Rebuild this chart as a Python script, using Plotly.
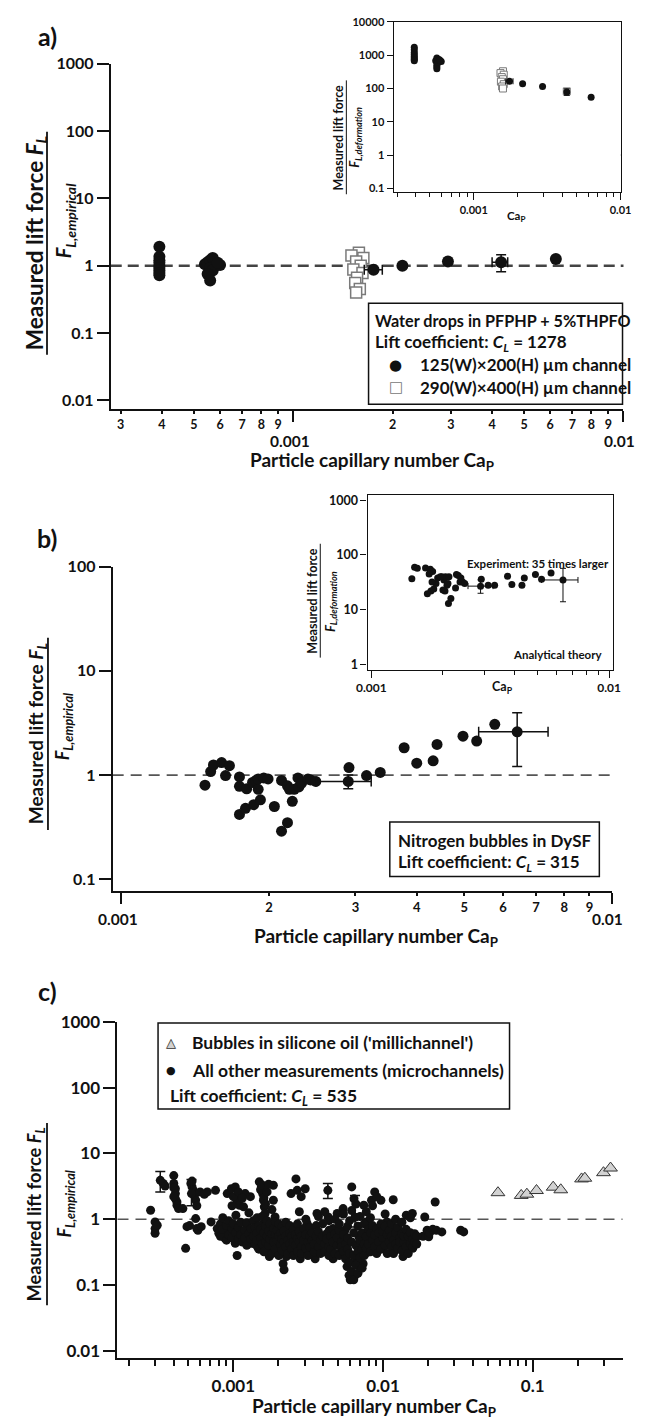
import math
import plotly.graph_objects as go

W, H = 648, 1424
OX, OY = 8, 8            # the page body keeps its default 8px margin
FW, FH = W - OX, H - OY  # figure size that fits the window
FONT = "Lato"
INK = "#111111"

# ── panel a, main: measured / empirical lift force ──────────────
a_small_x = [0.000393, 0.000393, 0.000393, 0.000393, 0.000393, 0.000393, 0.000393, 0.000393, 0.000393,
             0.00054, 0.00055, 0.00056, 0.00057, 0.00058, 0.00056, 0.00057, 0.00055, 0.00056, 0.00060, 0.00059,
             0.00214, 0.00294, 0.00624]
a_small_y = [1.9, 1.35, 1.2, 1.1, 1.0, 0.92, 0.85, 0.78, 0.72,
             1.05, 1.12, 1.2, 1.3, 1.0, 0.92, 0.85, 0.75, 0.6, 1.02, 1.1,
             1.0, 1.15, 1.25]
a_err_x = [0.00175, 0.00426]
a_err_y = [0.87, 1.12]
a_err_xm = [0.00011, 0.00026]
a_err_xp = [0.00011, 0.0002]
a_err_ym = [0.0, 0.31]
a_err_yp = [0.0, 0.33]
a_big_x = [0.00158, 0.00150, 0.00163, 0.00155, 0.00160, 0.00152, 0.00162, 0.00156, 0.00154, 0.00159, 0.00155]
a_big_y = [1.55, 1.42, 1.30, 1.15, 1.0, 0.88, 0.78, 0.66, 0.55, 0.45, 0.40]

# ── panel a, inset: measured / deformation lift force ───────────
ai_small_x = [0.000393, 0.000393, 0.000393, 0.000393, 0.000393, 0.000393, 0.000393, 0.000393,
              0.00056, 0.00058, 0.00055, 0.00060, 0.00057, 0.00056, 0.00056, 0.00056, 0.00059,
              0.00215, 0.00294, 0.0063]
ai_small_y = [1750, 1450, 1200, 1050, 920, 820, 740, 680,
              820, 740, 680, 650, 600, 520, 450, 390, 700,
              140, 115, 55]
ai_err_x = [0.00175, 0.0043]
ai_err_y = [165, 78]
ai_err_xm = [0.0001, 0.0001]
ai_err_xp = [0.0001, 0.0001]
ai_err_ym = [0, 16]
ai_err_yp = [0, 20]
ai_big_x = [0.00158, 0.00152, 0.00160, 0.00155, 0.00158, 0.00153, 0.00160, 0.00156, 0.00158, 0.0043]
ai_big_y = [330, 290, 260, 220, 190, 160, 135, 115, 100, 82]

# ── panel b, main ────────────────────────────────────────────────
b_x = [0.00148, 0.00152, 0.00154, 0.0016, 0.00163, 0.00166, 0.00174, 0.00174, 0.00174, 0.00179,
       0.0018, 0.00185, 0.00186, 0.00188, 0.0019, 0.00192, 0.0019, 0.00195, 0.00199, 0.00205,
       0.00212, 0.00212, 0.00218, 0.00218, 0.0022, 0.00223, 0.00225, 0.00229, 0.0023, 0.00233,
       0.0024, 0.00243, 0.00249, 0.00291, 0.00316, 0.00337, 0.00377, 0.004, 0.00432, 0.0044,
       0.00497, 0.0053, 0.00577]
b_y = [0.80, 1.08, 1.25, 1.32, 0.99, 1.23, 0.96, 0.78, 0.42, 0.48,
       0.74, 0.85, 0.52, 0.89, 0.73, 0.58, 0.92, 0.94, 0.92, 0.50,
       0.89, 0.29, 0.35, 0.79, 0.73, 0.56, 0.73, 0.94, 0.77, 0.84,
       0.92, 0.90, 0.87, 1.18, 0.99, 1.06, 1.83, 1.30, 1.37, 1.97,
       2.36, 2.12, 3.07]
b_err_x = [0.0029, 0.00641]
b_err_y = [0.87, 2.6]
b_err_xm = [0.0004, 0.00106]
b_err_xp = [0.00033, 0.001]
b_err_ym = [0.13, 1.39]
b_err_yp = [0.13, 1.36]

# ── panel b, inset ───────────────────────────────────────────────
bi_x = [0.00148, 0.00152, 0.00156, 0.00169, 0.00177, 0.00181, 0.00175, 0.00172, 0.00178, 0.00183,
        0.00187, 0.00198, 0.00202, 0.00180, 0.00190, 0.00205, 0.00208, 0.00200, 0.00210, 0.00212,
        0.00195, 0.00204, 0.00211, 0.00216, 0.00232, 0.00226, 0.00236, 0.00242, 0.00228, 0.00238,
        0.00247, 0.0029, 0.0031, 0.0033, 0.00374, 0.0039, 0.0043, 0.0044, 0.0049, 0.0052, 0.0057]
bi_y = [36.8, 60, 57, 58, 55, 50, 45, 19.7, 22, 24,
        30, 40, 35, 32, 38, 40, 28, 23, 30, 40,
        40, 22, 13, 16, 42, 25, 32, 32, 44, 38,
        30, 36, 28, 28, 41, 29, 28, 38, 44, 36, 47]
bi_err_x = [0.00288, 0.0064]
bi_err_y = [27, 35]
bi_err_xm = [0.00033, 0.0012]
bi_err_xp = [0.00037, 0.001]
bi_err_ym = [7, 21]
bi_err_yp = [8, 22]
bi_experiment = 30

# ── panel c ──────────────────────────────────────────────────────
c_tri_x = [0.0586, 0.0838, 0.0914, 0.106, 0.137, 0.154, 0.212, 0.223, 0.297, 0.331]
c_tri_y = [2.53, 2.3, 2.4, 2.73, 3.07, 2.8, 4.1, 4.2, 5.1, 6.0]

c_err_x = [0.000325, 0.000525, 0.00428, 0.0065]
c_err_y = [3.9, 2.45, 2.75, 1.07]
c_err_yp = [1.4, 1.55, 0.75, 1.23]
c_err_ym = [1.3, 0.85, 0.68, 0.31]

c_scatter = [
    (0.00028, 1.37), (0.00030, 0.91), (0.00030, 0.72), (0.00030, 0.61), (0.00031, 0.81),
    (0.00034, 3.5), (0.00035, 3.2),
    (0.00040, 4.6), (0.00040, 3.5), (0.00041, 2.9), (0.00041, 2.45), (0.00041, 2.05), (0.00042, 1.83),
    (0.00042, 1.63), (0.00043, 1.45), (0.00040, 3.0), (0.00040, 2.2),
    (0.00046, 1.45), (0.00048, 0.36), (0.00049, 0.77), (0.00051, 0.80),
    (0.00052, 3.5), (0.00053, 3.1), (0.00054, 2.75), (0.00055, 2.3), (0.00056, 1.95), (0.00057, 1.6),
    (0.00056, 1.02), (0.00057, 0.72), (0.00058, 0.68), (0.00053, 3.8),
    (0.00061, 0.77), (0.00060, 2.6), (0.00064, 2.4), (0.00067, 2.6), (0.00076, 2.75), (0.00071, 0.91),
    (0.00078, 0.72),
    (0.00080, 0.61), (0.00086, 0.68), (0.00088, 0.51), (0.00094, 0.61), (0.00091, 2.45), (0.00097, 2.9),
    (0.00103, 3.1), (0.00106, 1.94), (0.00110, 1.63), (0.00103, 0.43), (0.00106, 0.28), (0.00113, 0.64),
    (0.00117, 1.54), (0.0012, 2.45), (0.00124, 0.77), (0.0013, 2.2), (0.00132, 0.43), (0.0014, 0.61),
    (0.00145, 0.38), (0.00149, 3.7), (0.00154, 3.1), (0.00157, 2.45), (0.00159, 1.94), (0.00161, 1.54),
    (0.00163, 1.22), (0.00159, 0.86), (0.00154, 0.57), (0.00166, 0.48), (0.00169, 0.34), (0.00174, 0.27),
    (0.00179, 0.68), (0.00185, 3.28), (0.00185, 1.94), (0.0019, 1.08), (0.00192, 0.54), (0.0020, 0.38),
    (0.00205, 0.76), (0.00213, 0.45), (0.00215, 0.21), (0.00218, 0.17), (0.00226, 0.27), (0.00229, 0.61),
    (0.00236, 0.34), (0.00243, 2.45), (0.0025, 0.51), (0.00259, 0.38), (0.00262, 4.1), (0.00267, 2.75),
    (0.00276, 1.3), (0.0028, 0.25), (0.00284, 2.2), (0.00293, 0.61), (0.00302, 2.9), (0.00311, 0.86),
    (0.0032, 0.43), (0.00335, 0.32), (0.00352, 0.25), (0.00362, 1.22), (0.00373, 0.51), (0.00398, 0.38),
    (0.0043, 1.08), (0.00437, 0.68), (0.0045, 0.45), (0.00464, 0.25), (0.00494, 1.22), (0.00509, 0.54),
    (0.00525, 0.32), (0.00541, 1.45), (0.00557, 0.68), (0.00575, 0.19), (0.00593, 0.14), (0.00604, 0.12),
    (0.00618, 3.1), (0.0064, 2.05), (0.00651, 0.14), (0.0067, 0.24), (0.0069, 0.54), (0.00701, 0.38),
    (0.00736, 0.21), (0.00744, 1.63), (0.00772, 0.91), (0.00781, 0.31), (0.00817, 0.48), (0.00838, 1.94),
    (0.0088, 2.6), (0.00908, 0.57), (0.00968, 1.94), (0.0101, 0.38), (0.0106, 0.91), (0.0109, 0.48),
    (0.0117, 1.98), (0.0120, 0.68), (0.0121, 0.34), (0.0126, 0.51), (0.0132, 0.38), (0.0136, 0.27),
    (0.014, 0.64), (0.0143, 1.15), (0.0149, 0.48), (0.0157, 1.22), (0.0158, 0.36), (0.0164, 0.51),
    (0.0185, 0.55), (0.0190, 1.08), (0.0197, 0.68), (0.0202, 0.54), (0.0205, 0.62), (0.0215, 0.70),
    (0.0223, 1.83), (0.0227, 0.68), (0.0247, 0.64), (0.033, 0.68), (0.0346, 0.64),
]
# dense band of microchannel points, one Ca_p column per row
c_band = [
    (0.00082, [0.55, 0.85]), (0.00085, [0.70, 1.05]), (0.00090, [0.48, 0.80]), (0.00093, [0.95, 0.58]),
    (0.00098, [0.52, 0.72, 1.6]), (0.00100, [0.85, 2.2]), (0.00104, [0.62, 1.15]), (0.00108, [0.50, 0.75, 2.6]),
    (0.00112, [0.90, 0.58]), (0.00115, [0.45, 2.1]), (0.00119, [0.68, 0.52]), (0.00123, [0.88, 0.40]),
    (0.00127, [0.60, 1.25]), (0.00131, [0.72, 0.50]), (0.00136, [0.55, 0.95]), (0.00140, [0.42, 0.75]),
    (0.00144, [0.62, 0.48, 1.05]), (0.00148, [0.80, 0.35]), (0.00152, [0.52, 0.70, 2.8]),
    (0.00156, [0.42, 1.1, 3.3]), (0.00160, [0.62, 0.32, 2.1]), (0.00164, [0.78, 0.45, 1.7]),
    (0.00168, [0.55, 0.95, 2.6]), (0.00172, [0.40, 0.66, 3.4]), (0.00176, [0.50, 0.85]),
    (0.00181, [0.30, 0.60, 1.4]), (0.00186, [0.45, 0.72]), (0.00191, [0.35, 0.58, 0.92]),
    (0.00196, [0.48, 0.68]), (0.00201, [0.28, 0.55, 0.85]), (0.00207, [0.40, 0.62]),
    (0.00212, [0.33, 0.50, 0.78]), (0.00218, [0.45, 0.66]), (0.00224, [0.38, 0.55, 0.9]),
    (0.00231, [0.48, 0.30]), (0.00238, [0.42, 0.62, 0.80]), (0.00245, [0.35, 0.55]),
    (0.00252, [0.45, 0.70, 0.28]), (0.00260, [0.58, 0.40]), (0.00268, [0.32, 0.50, 0.85]),
    (0.00276, [0.45, 0.65]), (0.00285, [0.38, 0.55, 0.30]), (0.00295, [0.48, 0.72]),
    (0.00305, [0.36, 0.58, 1.0]), (0.00315, [0.45, 0.28]), (0.00325, [0.55, 0.38, 0.75]),
    (0.00336, [0.48, 0.62]), (0.00347, [0.32, 0.42]), (0.00358, [0.55, 0.80]),
    (0.00370, [0.38, 0.65, 1.1]), (0.00382, [0.30, 0.48]), (0.00395, [0.55, 0.85]),
    (0.00408, [0.42, 0.32, 1.3]), (0.00421, [0.60, 0.50]), (0.00435, [0.38, 0.28, 0.95]),
    (0.00449, [0.55, 0.35]), (0.00463, [0.45, 0.72]), (0.00478, [0.30, 0.60, 1.0]),
    (0.00494, [0.40, 0.52]), (0.00510, [0.28, 0.68, 0.85]), (0.00527, [0.45, 0.38]),
    (0.00544, [0.32, 0.58, 1.2]), (0.00562, [0.42, 0.25]), (0.00580, [0.35, 0.52, 0.78]),
    (0.00598, [0.22, 0.30, 0.95]), (0.00617, [0.45, 0.16, 1.35]), (0.00637, [0.28, 0.62, 0.12]),
    (0.00658, [0.40, 0.20, 1.7]), (0.00680, [0.33, 0.78, 0.15]), (0.00702, [0.48, 0.26, 1.1]),
    (0.00725, [0.35, 0.62, 0.18]), (0.00749, [0.42, 0.85, 0.28]), (0.00773, [0.55, 0.36, 1.3]),
    (0.00798, [0.42, 0.70]), (0.00824, [0.32, 0.62, 1.05]), (0.00851, [0.48, 0.80, 1.6]),
    (0.00879, [0.38, 0.58]), (0.00908, [0.30, 0.72, 2.2]), (0.00938, [0.45, 0.62]),
    (0.00969, [0.35, 0.85]), (0.01000, [0.52, 0.65]), (0.01033, [0.40, 0.78, 1.2]),
    (0.01067, [0.30, 0.58]), (0.01102, [0.45, 0.68]), (0.01138, [0.55, 0.38, 0.85]),
    (0.01175, [0.48, 0.30]), (0.01214, [0.62, 0.42, 1.0]), (0.01254, [0.36, 0.75]),
    (0.01295, [0.52, 0.45]), (0.01338, [0.60, 0.33, 0.9]), (0.01382, [0.45, 0.55]),
    (0.01427, [0.38, 0.70]), (0.01474, [0.55, 0.30]), (0.01523, [0.42, 0.62, 1.05]),
    (0.01573, [0.50, 0.38]), (0.01625, [0.45, 0.60]), (0.01680, [0.55, 0.42]),
]
c_x = [p[0] for p in c_scatter] + [x for x, ys in c_band for _ in ys]
c_y = [p[1] for p in c_scatter] + [y for _, ys in c_band for y in ys]

# tick positions
decades_y_a = [0.01, 0.1, 1, 10, 100, 1000]
decades_y_ai = [0.1, 1, 10, 100, 1000, 10000]
decades_y_b = [0.1, 1, 10, 100]
decades_y_bi = [1, 10, 100, 1000]
digits = [2, 3, 4, 5, 6, 7, 8, 9]


# helpers: positions are given in window pixels of the reference picture
def fx(px):
    return (px - OX) / FW


def fy(py):
    return 1 - (py - OY) / FH


def dx(a, b):
    return [fx(a), fx(b)]


def dy(top, bottom):
    return [fy(bottom), fy(top)]


def axis(domain, rng, anchor, size, ticklen, lw=2, **kw):
    d = dict(type="log", domain=domain, range=rng, anchor=anchor, showgrid=False, zeroline=False,
             showline=True, linecolor=INK, linewidth=lw, ticks="outside", ticklen=ticklen,
             tickwidth=lw, tickcolor=INK,
             tickfont=dict(family=FONT, size=size, color=INK, weight=700))
    d.update(kw)
    return d


def ann(text, px, py, size, xanchor="center", yanchor="middle", angle=0, color=INK, family=FONT, weight=700):
    return dict(text=text, x=fx(px), y=fy(py), xref="paper", yref="paper", showarrow=False,
                xanchor=xanchor, yanchor=yanchor, textangle=angle,
                font=dict(family=family, size=size, color=color, weight=weight))


def err(x, y, xm, xp, ym, yp, xa, ya, size, thick=1.5, cap=4):
    return go.Scatter(x=x, y=y, xaxis=xa, yaxis=ya, mode="markers",
                      marker=dict(size=size, color=INK),
                      error_x=dict(type="data", array=xp, arrayminus=xm, color=INK, thickness=thick, width=cap),
                      error_y=dict(type="data", array=yp, arrayminus=ym, color=INK, thickness=thick, width=cap))


fig = go.Figure()

# panel a
fig.add_trace(go.Scatter(x=a_big_x, y=a_big_y, xaxis="x", yaxis="y", mode="markers",
                         marker=dict(symbol="square", size=11, color="white", line=dict(color="#7a7a7a", width=1.5))))
fig.add_trace(go.Scatter(x=a_small_x, y=a_small_y, xaxis="x", yaxis="y", mode="markers",
                         marker=dict(size=12, color=INK)))
fig.add_trace(err(a_err_x, a_err_y, a_err_xm, a_err_xp, a_err_ym, a_err_yp, "x", "y", 12, 1.5, 5))

# panel a inset
fig.add_trace(go.Scatter(x=ai_big_x, y=ai_big_y, xaxis="x2", yaxis="y2", mode="markers",
                         marker=dict(symbol="square", size=7, color="white", line=dict(color="#7a7a7a", width=1))))
fig.add_trace(go.Scatter(x=ai_small_x, y=ai_small_y, xaxis="x2", yaxis="y2", mode="markers",
                         marker=dict(size=7, color=INK)))
fig.add_trace(err(ai_err_x, ai_err_y, ai_err_xm, ai_err_xp, ai_err_ym, ai_err_yp, "x2", "y2", 7, 1, 3))

# panel b
fig.add_trace(go.Scatter(x=b_x, y=b_y, xaxis="x3", yaxis="y3", mode="markers",
                         marker=dict(size=11, color=INK)))
fig.add_trace(err(b_err_x, b_err_y, b_err_xm, b_err_xp, b_err_ym, b_err_yp, "x3", "y3", 11, 1.5, 5))

# panel b inset
fig.add_trace(go.Scatter(x=bi_x, y=bi_y, xaxis="x4", yaxis="y4", mode="markers",
                         marker=dict(size=7, color=INK)))
fig.add_trace(err(bi_err_x, bi_err_y, bi_err_xm, bi_err_xp, bi_err_ym, bi_err_yp, "x4", "y4", 7, 1, 3))

# panel c
fig.add_trace(go.Scatter(x=c_x, y=c_y, xaxis="x5", yaxis="y5", mode="markers",
                         marker=dict(size=9, color=INK)))
fig.add_trace(err(c_err_x, c_err_y, [0] * 4, [0] * 4, c_err_ym, c_err_yp, "x5", "y5", 9, 1.5, 5))
fig.add_trace(go.Scatter(x=c_tri_x, y=c_tri_y, xaxis="x5", yaxis="y5", mode="markers",
                         marker=dict(symbol="triangle-up", size=12, color="#d2d2d2", line=dict(color="#333", width=1))))

# reference lines
shapes = []
for xa, ya, col, w, dash in [("x", "y", "#444", 2.5, "11px,6px"), ("x3", "y3", "#555", 1.8, "11px,7px"),
                             ("x5", "y5", "#555", 1.6, "11px,7px"), ("x2", "y2", "#333", 1, "4px,3px"),
                             ("x4", "y4", "#333", 1, "4px,3px")]:
    shapes.append(dict(type="line", xref=f"{xa} domain", yref=ya, x0=0, x1=1, y0=1, y1=1,
                       line=dict(color=col, width=w, dash=dash), layer="below"))
shapes.append(dict(type="line", xref="x4 domain", yref="y4", x0=0, x1=1, y0=bi_experiment, y1=bi_experiment,
                   line=dict(color="#333", width=1, dash="dot"), layer="below"))

minor_a = [d * 1e-4 for d in digits] + [d * 1e-3 for d in digits]
minor_b = [d * 1e-3 for d in digits]
minor_c = [d * 1e-4 for d in digits] + [d * 1e-3 for d in digits] + [d * 1e-2 for d in digits] + [0.2, 0.3, 0.4]


def ylabels(vals):
    return [f"{v:g}" for v in vals]


layout = dict(
    width=FW, height=FH, margin=dict(l=0, r=0, t=0, b=0), showlegend=False,
    paper_bgcolor="white", plot_bgcolor="white",
    xaxis=axis(dx(103, 634), [-3.553, -2.0], "y", 12.5, 3,
               tickvals=minor_a, ticktext=[str(d) for d in digits] * 2,
               minor=dict(tickmode="array", tickvals=[1e-3, 1e-2], ticks="outside", ticklen=11,
                          tickwidth=2, tickcolor=INK)),
    yaxis=axis(dy(53, 402), [-2.13, 3.0], "x", 16, 12,
               tickvals=decades_y_a, ticktext=ylabels(decades_y_a)),
    xaxis2=axis(dx(396, 631), [-3.546, -2.0], "y2", 11, 7, lw=1.2, mirror=True,
                tickvals=[1e-3, 1e-2], ticktext=["0.001", "0.01"],
                minor=dict(tickmode="array", tickvals=minor_a, ticks="outside", ticklen=4,
                           tickwidth=1, tickcolor=INK)),
    yaxis2=axis(dy(11, 183), [-1.12, 4.0], "x2", 11, 6, lw=1.2, mirror=True,
                tickvals=decades_y_ai, ticktext=ylabels(decades_y_ai)),
    xaxis3=axis(dx(105, 622), [-3.018, -2.0], "y3", 13, 3,
                tickvals=minor_b, ticktext=[str(d) for d in digits],
                minor=dict(tickmode="array", tickvals=[1e-3, 1e-2], ticks="outside", ticklen=11,
                           tickwidth=2, tickcolor=INK)),
    yaxis3=axis(dy(561, 889), [-1.114, 2.0], "x3", 16, 12,
                tickvals=decades_y_b, ticktext=ylabels(decades_y_b)),
    xaxis4=axis(dx(369, 623), [-3.016, -1.984], "y4", 12, 7, lw=1.2, mirror=True,
                tickvals=[1e-3, 1e-2], ticktext=["0.001", "0.01"],
                minor=dict(tickmode="array", tickvals=minor_b, ticks="outside", ticklen=4,
                           tickwidth=1, tickcolor=INK)),
    yaxis4=axis(dy(489, 665), [-0.09, 3.09], "x4", 12.5, 6, lw=1.2, mirror=True,
                tickvals=decades_y_bi, ticktext=ylabels(decades_y_bi)),
    xaxis5=axis(dx(110, 633), [-3.774, -0.40], "y5", 17, 12,
                tickvals=[1e-3, 1e-2, 1e-1], ticktext=["0.001", "0.01", "0.1"],
                minor=dict(tickmode="array", tickvals=minor_c, ticks="outside", ticklen=6,
                           tickwidth=2, tickcolor=INK)),
    yaxis5=axis(dy(1021, 1360), [-2.106, 3.0], "x5", 17, 12,
                tickvals=decades_y_a, ticktext=ylabels(decades_y_a)),
)

annotations = [
    ann("a)", 37, 25, 25), ann("b)", 37, 532, 25), ann("c)", 37, 990, 25),
    ann("Particle capillary number Ca<sub>P</sub>", 374, 454, 19),
    ann("Particle capillary number Ca<sub>P</sub>", 378, 935, 19),
    ann("Particle capillary number Ca<sub>P</sub>", 376, 1410, 19),
    ann("Ca<sub>P</sub>", 523, 207, 11.5), ann("Ca<sub>P</sub>", 509, 683, 12.5),
]
# decade labels under the digit-labelled axes
for v, shift in [(1e-3, -3), (1e-2, -4)]:
    for xa, py in [("x", 434), ("x3", 917)]:
        annotations.append(dict(text=f"{v:g}", x=math.log10(v), xref=xa, xshift=shift, y=fy(py), yref="paper",
                                showarrow=False, xanchor="center", yanchor="middle",
                                font=dict(family=FONT, size=15.5, color=INK, weight=700)))

# y titles drawn as fractions
frac = [
    # numerator x, line x, denominator x, numerator y, denominator y, line top, line bottom, sizes, word
    (25, 37, 56, 234, 212, 122, 347, 22.5, 20, "empirical"),
    (27, 38, 55, 730, 723, 633, 827, 19, 18, "empirical"),
    (25, 37, 56, 1215, 1205, 1123, 1307, 18.3, 18, "empirical"),
    (339, 347, 356, 128, 128, 70, 185, 12.5, 13, "deformation"),
    (312, 320, 331, 596, 596, 538, 653, 12.5, 13, "deformation"),
]
for nx, lx, ddx, ny, dyy, lt, lb, sn, sd, word in frac:
    num = "Measured lift force" if word == "deformation" else "Measured lift force <i>F<sub>L</sub></i>"
    annotations.append(ann(num, nx, ny, sn, angle=-90))
    annotations.append(ann(f"<i>F<sub>L,{word}</sub></i>", ddx, dyy, sd, angle=-90))
    shapes.append(dict(type="line", xref="paper", yref="paper", x0=fx(lx), x1=fx(lx),
                       y0=fy(lt), y1=fy(lb), line=dict(color=INK, width=1.8 if sn > 13 else 1)))

# inset b notes
annotations += [
    ann("Experiment: 35 times larger", 621, 558, 11.5, xanchor="right"),
    ann("Analytical theory", 614, 650, 11.5, xanchor="right"),
]

# legend boxes
for left, right, top, bottom in [(370, 633, 295, 397), (392, 609, 819, 874), (152, 516, 1022, 1109)]:
    shapes.append(dict(type="rect", xref="paper", yref="paper", x0=fx(left), x1=fx(right),
                       y0=fy(bottom), y1=fy(top), line=dict(color=INK, width=1.5),
                       fillcolor="white", layer="above"))
annotations += [
    ann("Water drops in PFPHP + 5%THPFO", 375, 313, 16.2, xanchor="left"),
    ann("Lift coefficient: <i>C<sub>L</sub></i> = 1278", 375, 335, 17, xanchor="left"),
    ann("●", 398, 357, 15, family="DejaVu Sans", weight=400),
    ann("125(W)×200(H) µm channel", 421, 357, 17, xanchor="left"),
    ann("□", 398, 380, 15, color="#777", family="DejaVu Sans", weight=400),
    ann("290(W)×400(H) µm channel", 421, 380, 17, xanchor="left"),
    ann("Nitrogen bubbles in DySF", 398, 838, 17, xanchor="left"),
    ann("Lift coefficient: <i>C<sub>L</sub></i> = 315", 398, 860, 17, xanchor="left"),
    ann("▲", 165, 1042, 13, color="#d2d2d2", family="DejaVu Sans", weight=400),
    ann("△", 165, 1042, 13, color="#333", family="DejaVu Sans", weight=400),
    ann("Bubbles in silicone oil ('millichannel')", 185, 1042, 17.5, xanchor="left"),
    ann("●", 165, 1070, 11, family="DejaVu Sans", weight=400),
    ann("All other measurements (microchannels)", 185, 1070, 17.5, xanchor="left"),
    ann("Lift coefficient: <i>C<sub>L</sub></i> = 535", 162, 1097, 17.5, xanchor="left"),
]

fig.update_layout(**layout)
fig.update_layout(annotations=annotations, shapes=shapes)

fig.write_html("out.html")
